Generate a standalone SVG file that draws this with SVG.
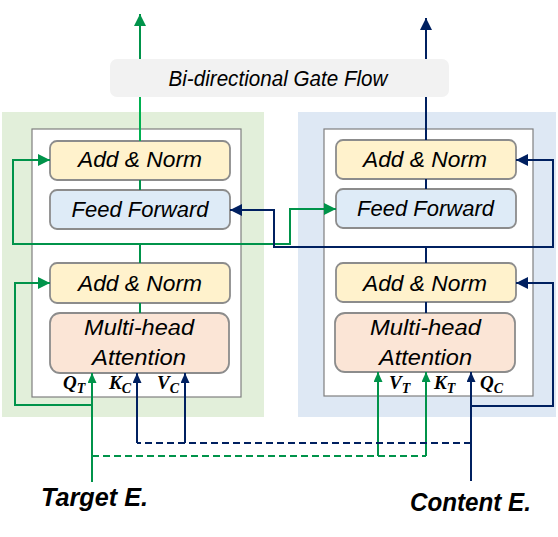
<svg xmlns="http://www.w3.org/2000/svg" width="558" height="537" viewBox="0 0 558 537">
<style>
.bg-g{fill:#e2efda}
.bg-b{fill:#dee8f4}
.frame{fill:#ffffff;stroke:#7f7f7f;stroke-width:1.2}
.box{stroke:#8c8c8c;stroke-width:1.8}
.an{fill:#fff2cc}
.ff{fill:#deebf7}
.mh{fill:#fbe5d6}
.t{font-family:"Liberation Sans",Arial,sans-serif;font-style:italic;font-size:22px;fill:#000;text-anchor:middle}
.lab{font-family:"Liberation Serif","Times New Roman",serif;font-style:italic;font-weight:bold;font-size:19px;fill:#000}
.big{font-family:"Liberation Sans",Arial,sans-serif;font-style:italic;font-weight:bold;font-size:25px;fill:#000}
.g{fill:none;stroke:#00934a;stroke-width:2}
.gl{fill:none;stroke:#00b050;stroke-width:2}
.b{fill:none;stroke:#002060;stroke-width:2}
.d{stroke-dasharray:7 4}
</style>
<defs>
<marker id="mg" markerUnits="userSpaceOnUse" markerWidth="13" markerHeight="13" refX="12" refY="6" orient="auto"><path d="M0,0 L12,6 L0,12 z" fill="#00934a"/></marker>
<marker id="mb" markerUnits="userSpaceOnUse" markerWidth="13" markerHeight="13" refX="12" refY="6" orient="auto"><path d="M0,0 L12,6 L0,12 z" fill="#002060"/></marker>
<marker id="mgs" markerUnits="userSpaceOnUse" markerWidth="11" markerHeight="11" refX="10" refY="4.5" orient="auto"><path d="M0,0 L10,4.5 L0,9 z" fill="#00934a"/></marker>
<marker id="mbs" markerUnits="userSpaceOnUse" markerWidth="11" markerHeight="11" refX="10" refY="4.5" orient="auto"><path d="M0,0 L10,4.5 L0,9 z" fill="#002060"/></marker>
</defs>

<g id="target-panel">
<rect class="bg-g" x="2" y="112" width="262" height="305"/>
<rect class="frame" x="32" y="129" width="209" height="268"/>
</g>
<g id="content-panel">
<rect class="bg-b" x="298" y="112" width="258" height="305"/>
<rect class="frame" x="324" y="129" width="209" height="267"/>
</g>

<g id="gate">
<rect x="110" y="59" width="339" height="38" rx="7" fill="#f2f2f2"/>
<text class="t" x="278" y="86" font-size="20" textLength="219" lengthAdjust="spacingAndGlyphs">Bi-directional Gate Flow</text>
</g>

<g id="t-addnorm2">
<rect class="box an" x="50" y="141" width="180" height="39" rx="7"/>
<text class="t" x="140" y="167" textLength="124" lengthAdjust="spacingAndGlyphs">Add &amp; Norm</text>
</g>
<g id="t-ff">
<rect class="box ff" x="50" y="190" width="180" height="39" rx="7"/>
<text class="t" x="140" y="217" textLength="137" lengthAdjust="spacingAndGlyphs">Feed Forward</text>
</g>
<g id="t-addnorm1">
<rect class="box an" x="50" y="263" width="180" height="40" rx="7"/>
<text class="t" x="140" y="291" textLength="124" lengthAdjust="spacingAndGlyphs">Add &amp; Norm</text>
</g>
<g id="t-mha">
<rect class="box mh" x="50" y="313" width="179" height="60" rx="10"/>
<text class="t" x="139" y="335" textLength="110" lengthAdjust="spacingAndGlyphs">Multi-head</text>
<text class="t" x="139" y="365" textLength="94" lengthAdjust="spacingAndGlyphs">Attention</text>
</g>

<g id="c-addnorm2">
<rect class="box an" x="336" y="140" width="180" height="39" rx="7"/>
<text class="t" x="425" y="167" textLength="124" lengthAdjust="spacingAndGlyphs">Add &amp; Norm</text>
</g>
<g id="c-ff">
<rect class="box ff" x="336" y="189" width="180" height="39" rx="7"/>
<text class="t" x="425.5" y="216" textLength="137" lengthAdjust="spacingAndGlyphs">Feed Forward</text>
</g>
<g id="c-addnorm1">
<rect class="box an" x="336" y="263" width="180" height="39" rx="7"/>
<text class="t" x="425" y="291" textLength="124" lengthAdjust="spacingAndGlyphs">Add &amp; Norm</text>
</g>
<g id="c-mha">
<rect class="box mh" x="335" y="313" width="180" height="59" rx="10"/>
<text class="t" x="425.5" y="335" textLength="111" lengthAdjust="spacingAndGlyphs">Multi-head</text>
<text class="t" x="425.5" y="365" textLength="93" lengthAdjust="spacingAndGlyphs">Attention</text>
</g>

<g id="labels">
<text class="lab" x="63" y="389">Q<tspan font-size="14" dy="4">T</tspan></text>
<text class="lab" x="109" y="389">K<tspan font-size="14" dy="4">C</tspan></text>
<text class="lab" x="157" y="389">V<tspan font-size="14" dy="4">C</tspan></text>
<text class="lab" x="389" y="389">V<tspan font-size="14" dy="4">T</tspan></text>
<text class="lab" x="434" y="389">K<tspan font-size="14" dy="4">T</tspan></text>
<text class="lab" x="480" y="389">Q<tspan font-size="14" dy="4">C</tspan></text>
</g>

<g id="target-input">
<text class="big" x="41" y="506" textLength="107" lengthAdjust="spacingAndGlyphs">Target E.</text>
</g>
<g id="content-input">
<text class="big" x="410" y="511" textLength="121" lengthAdjust="spacingAndGlyphs">Content E.</text>
</g>

<g id="connectors">
<!-- green (target) stream -->
<path class="gl" d="M140,141 V97"/>
<path class="g" d="M140,59 V14" marker-end="url(#mg)"/>
<path class="g" d="M140,180 V190"/>
<path class="g" d="M140,263 V244 H13 V160 H50" marker-end="url(#mg)"/>
<path class="g" d="M140,244 H290 V209 H336" marker-end="url(#mg)"/>
<path class="g" d="M140,303 V313"/>
<path class="g" d="M92,482 V373" marker-end="url(#mgs)"/>
<path class="g" d="M92,405 H15 V283 H50" marker-end="url(#mg)"/>
<path class="g d" d="M92,456 H426"/>
<path class="g" d="M378,456 V372" marker-end="url(#mgs)"/>
<path class="g" d="M426,456 V372" marker-end="url(#mgs)"/>
<!-- blue (content) stream -->
<path class="b" d="M426,140 V97"/>
<path class="b" d="M426,59 V18" marker-end="url(#mb)"/>
<path class="b" d="M426,179 V189"/>
<path class="b" d="M426,263 V247 H553 V160 H516" marker-end="url(#mb)"/>
<path class="b" d="M426,247 H274 V210 H230" marker-end="url(#mb)"/>
<path class="b" d="M426,302 V313"/>
<path class="b" d="M471,481 V372" marker-end="url(#mbs)"/>
<path class="b" d="M471,406 H553 V283 H516" marker-end="url(#mb)"/>
<path class="b d" d="M471,443 H137"/>
<path class="b" d="M137,443 V373" marker-end="url(#mbs)"/>
<path class="b" d="M185,443 V373" marker-end="url(#mbs)"/>
</g>
</svg>
